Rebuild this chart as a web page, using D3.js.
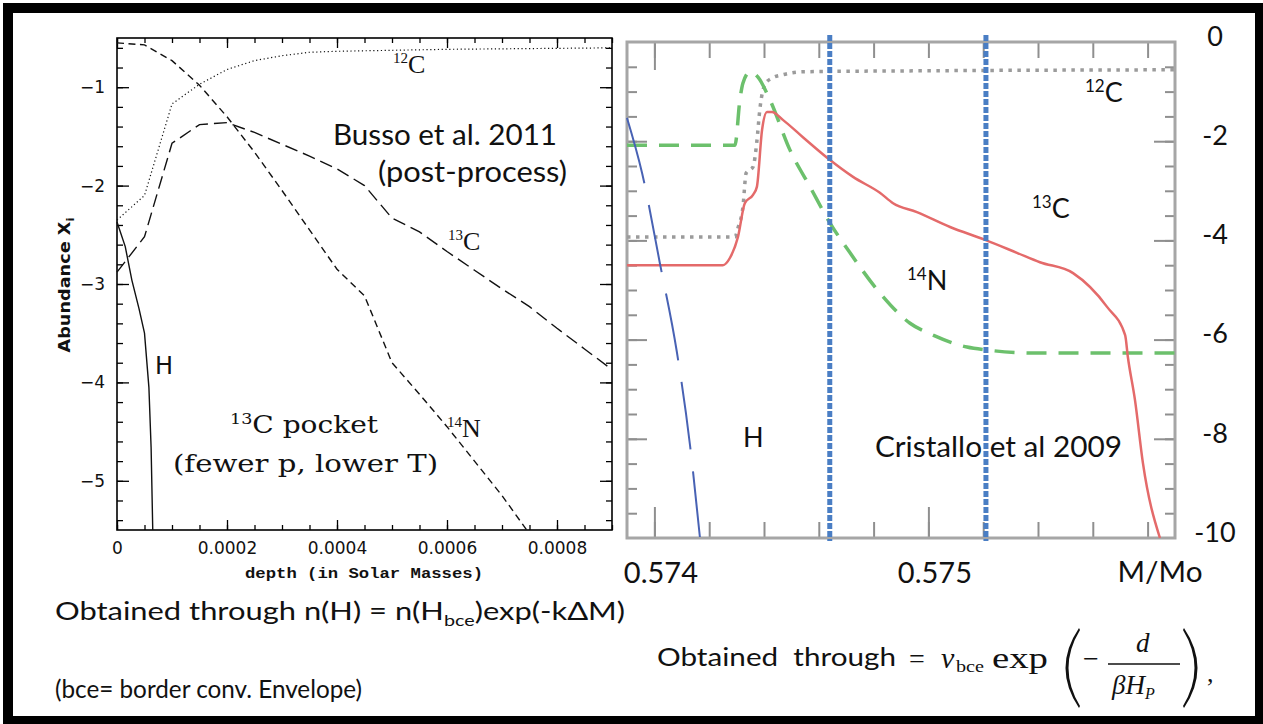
<!DOCTYPE html>
<html>
<head>
<meta charset="utf-8">
<script src="https://cdn.jsdelivr.net/npm/d3@7"></script>
<style>
  body { margin: 0; background: #fff; }
  svg text { font-family: Lato, "Open Sans", sans-serif; fill: #111; }
  svg text.serif { font-family: "Liberation Serif", "Times New Roman", serif; }
  svg text.helv { font-family: "DejaVu Sans", sans-serif; }
  svg text.mono { font-family: "Liberation Mono", monospace; font-weight: bold; }
  svg text.school { font-family: "DejaVu Serif", serif; }
</style>
</head>
<body>
<svg width="1263" height="724"></svg>
<script>
// ---- left panel: Busso et al. 2011 (depth in solar masses, log abundance) ----
var busso12C = [[0,-2.35],[0.00005,-2.10],[0.0001,-1.17],[0.00015,-0.97],[0.0002,-0.82],[0.00025,-0.73],
  [0.0003,-0.68],[0.00035,-0.645],[0.0004,-0.635],[0.0005,-0.625],[0.0006,-0.615],[0.0007,-0.61],[0.0008,-0.605],[0.0009,-0.60]];
var busso13C = [[0,-2.88],[0.00005,-2.52],[0.0001,-1.57],[0.00015,-1.38],[0.0002,-1.36],[0.00025,-1.46],[0.0003,-1.58],
  [0.00035,-1.70],[0.0004,-1.83],[0.00045,-2.0],[0.0005,-2.33],[0.00055,-2.47],[0.0006,-2.67],[0.00065,-2.86],
  [0.0007,-3.05],[0.00075,-3.23],[0.0008,-3.45],[0.00085,-3.66],[0.0009,-3.87]];
var busso14N = [[0,-0.55],[0.00005,-0.57],[0.0001,-0.73],[0.00015,-0.98],[0.0002,-1.30],[0.00025,-1.66],[0.0003,-2.05],
  [0.00035,-2.45],[0.0004,-2.85],[0.00045,-3.12],[0.0005,-3.8],[0.00055,-4.12],[0.0006,-4.45],[0.00065,-4.8],
  [0.0007,-5.15],[0.000745,-5.5]];
var bussoH = [[0,-2.37],[0.000015,-2.62],[0.000027,-2.96],[0.00004,-3.25],[0.00005,-3.5],[0.000058,-4.05],
  [0.000062,-4.66],[0.000065,-5.5]];
var leftXTicks = [0, 0.0002, 0.0004, 0.0006, 0.0008];
var leftXLabels = ['0', '0.0002', '0.0004', '0.0006', '0.0008'];
var leftYTicks = [-1, -2, -3, -4, -5];

// ---- right panel: Cristallo et al. 2009 (M/Mo, log abundance) ----
var cristallo12C = [[0.5739,-3.93],[0.574294,-3.93],[0.574305,-3.75],[0.574323,-3.33],[0.574335,-2.64],[0.57436,-2.52],
  [0.574374,-2.0],[0.574385,-1.35],[0.574404,-0.85],[0.574429,-0.73],[0.574469,-0.66],[0.574542,-0.6],[0.575,-0.58],[0.5759,-0.56]];
var cristallo13C = [[0.5739,-4.5],[0.57425,-4.5],[0.574276,-4.35],[0.574305,-3.93],[0.57433,-3.25],[0.57436,-3.08],
  [0.574374,-2.92],[0.574393,-1.77],[0.574411,-1.41],[0.574429,-1.41],[0.574469,-1.57],[0.574542,-1.92],[0.574641,-2.38],
  [0.574725,-2.72],[0.574823,-3.04],[0.574871,-3.25],[0.574958,-3.43],[0.575079,-3.73],[0.575207,-3.99],[0.575323,-4.25],
  [0.575407,-4.44],[0.575528,-4.66],[0.575652,-5.34],[0.575718,-5.91],[0.575728,-6.35],[0.575754,-7.22],[0.575783,-8.49],[0.575845,-10]];
var cristallo14N = [[0.5739,-2.08],[0.574294,-2.08],[0.574312,-1.17],[0.574323,-0.83],[0.574349,-0.60],[0.574378,-0.71],
  [0.574422,-1.17],[0.574495,-2.18],[0.574568,-2.92],[0.574641,-3.65],[0.574714,-4.25],[0.574823,-5.06],[0.574933,-5.67],
  [0.575017,-5.91],[0.575141,-6.15],[0.575214,-6.21],[0.575382,-6.27],[0.5759,-6.27]];
var cristalloH = [[0.5739,-1.53],[0.573955,-2.64],[0.57402,-4.46],[0.574082,-6.25],[0.57413,-8.13],[0.574166,-9.98]];
var pocketEdges = [0.57464, 0.57521];
var rightXTicks = [0.574, 0.575];
var rightYTicks = [0, -2, -4, -6, -8, -10];

var svg = d3.select('svg');

// black frame
svg.append('rect').attr('x', 3).attr('y', 3).attr('width', 1260).attr('height', 721).attr('fill', '#000');
svg.append('rect').attr('x', 13).attr('y', 13).attr('width', 1242).attr('height', 703).attr('fill', '#fff');

var leftX = d3.scaleLinear().domain([0, 0.0009]).range([117, 612]);
var leftY = d3.scaleLinear().domain([-5.5, -0.5]).range([530, 38]);
var rightX = d3.scaleLinear().domain([0.5739, 0.5759]).range([627, 1175]);
var rightY = d3.scaleLinear().domain([-10, 0]).range([538, 42]);

function noLabel(){ return ''; }

function addAxis(g, axis, color, width){
  g.call(axis);
  g.select('.domain').remove();
  g.attr('font-family', null).attr('font-size', null);
  g.selectAll('line').attr('stroke', color).attr('stroke-width', width);
  return g;
}

function isotope(x, y, mass, sym, big, small, cls){
  var t = svg.append('text').attr('class', cls).attr('x', x).attr('y', y);
  t.append('tspan').attr('font-size', small).attr('dy', -big * 0.38).text(mass);
  t.append('tspan').attr('font-size', big).attr('dy', big * 0.38).text(sym);
  return t;
}

function drawLeft(){
  var minorX = d3.range(0, 0.00090001, 0.00005);
  var minorY = d3.range(-5.4, -0.5, 0.2);
  var g = svg.append('g');

  addAxis(g.append('g').attr('transform', 'translate(0,530)'),
    d3.axisBottom(leftX).tickValues(minorX).tickSizeInner(-5).tickSizeOuter(0).tickFormat(noLabel), '#000', 1.3);
  var bx = addAxis(g.append('g').attr('transform', 'translate(0,530)'),
    d3.axisBottom(leftX).tickValues(leftXTicks).tickSizeInner(-10).tickSizeOuter(0).tickPadding(12)
      .tickFormat(function(d, i){ return leftXLabels[i]; }), '#000', 1.3);
  bx.selectAll('text').attr('class', 'helv').attr('font-size', 17).attr('fill', '#222');
  addAxis(g.append('g').attr('transform', 'translate(0,38)'),
    d3.axisTop(leftX).tickValues(minorX).tickSizeInner(-5).tickSizeOuter(0).tickFormat(noLabel), '#000', 1.3);
  addAxis(g.append('g').attr('transform', 'translate(0,38)'),
    d3.axisTop(leftX).tickValues(leftXTicks).tickSizeInner(-10).tickSizeOuter(0).tickFormat(noLabel), '#000', 1.3);

  addAxis(g.append('g').attr('transform', 'translate(117,0)'),
    d3.axisLeft(leftY).tickValues(minorY).tickSizeInner(-6).tickSizeOuter(0).tickFormat(noLabel), '#000', 1.3);
  var by = addAxis(g.append('g').attr('transform', 'translate(117,0)'),
    d3.axisLeft(leftY).tickValues(leftYTicks).tickSizeInner(-12).tickSizeOuter(0).tickPadding(12)
      .tickFormat(d3.format('d')), '#000', 1.3);
  by.selectAll('text').attr('class', 'helv').attr('font-size', 17).attr('fill', '#222');
  addAxis(g.append('g').attr('transform', 'translate(612,0)'),
    d3.axisRight(leftY).tickValues(minorY).tickSizeInner(-6).tickSizeOuter(0).tickFormat(noLabel), '#000', 1.3);
  addAxis(g.append('g').attr('transform', 'translate(612,0)'),
    d3.axisRight(leftY).tickValues(leftYTicks).tickSizeInner(-12).tickSizeOuter(0).tickFormat(noLabel), '#000', 1.3);

  g.append('rect').attr('x', 117).attr('y', 38).attr('width', 612 - 117).attr('height', 530 - 38)
    .attr('fill', 'none').attr('stroke', '#000').attr('stroke-width', 1.6);

  var line = d3.line().x(function(d){ return leftX(d[0]); }).y(function(d){ return leftY(d[1]); });
  var series = [
    { data: busso12C, dash: '1.2,2.6', w: 1.2 },
    { data: busso13C, dash: '13,6', w: 1.4 },
    { data: busso14N, dash: '7,4.5', w: 1.4 },
    { data: bussoH, dash: null, w: 1.4 }
  ];
  g.selectAll('path.curve').data(series).enter().append('path')
    .attr('class', 'curve')
    .attr('d', function(d){ return line(d.data); })
    .attr('fill', 'none').attr('stroke', '#111')
    .attr('stroke-width', function(d){ return d.w; })
    .attr('stroke-dasharray', function(d){ return d.dash; });

  // axis titles
  svg.append('text').attr('class', 'mono').attr('x', 364).attr('y', 578).attr('text-anchor', 'middle')
    .attr('font-size', 15).attr('textLength', 238).attr('lengthAdjust', 'spacingAndGlyphs')
    .text('depth (in Solar Masses)');
  var yt = svg.append('text').attr('class', 'helv').attr('font-weight', 'bold').attr('font-size', 15)
    .attr('transform', 'translate(70,285) rotate(-90)').attr('text-anchor', 'middle')
    .attr('textLength', 135).attr('lengthAdjust', 'spacingAndGlyphs');
  yt.append('tspan').text('Abundance X');
  yt.append('tspan').attr('font-size', 10).attr('dy', 4).text('i');

  // labels inside
  isotope(393, 73, '12', 'C', 26, 15, 'serif');
  isotope(448, 250, '13', 'C', 26, 15, 'serif');
  isotope(447, 437, '14', 'N', 26, 15, 'serif');
  svg.append('text').attr('class', 'helv').attr('x', 155).attr('y', 374).attr('font-size', 24).text('H');
  svg.append('text').attr('x', 333).attr('y', 145).attr('font-size', 28)
    .attr('textLength', 224).attr('lengthAdjust', 'spacingAndGlyphs').text('Busso et al. 2011');
  svg.append('text').attr('x', 378).attr('y', 182).attr('font-size', 28)
    .attr('textLength', 189).attr('lengthAdjust', 'spacingAndGlyphs').text('(post-process)');
  var pk = isotope(230, 433, '13', 'C', 24, 15, 'school')
    .attr('textLength', 148).attr('lengthAdjust', 'spacingAndGlyphs');
  pk.append('tspan').attr('font-size', 24).text(' pocket');
  svg.append('text').attr('class', 'school').attr('x', 173).attr('y', 472).attr('font-size', 24)
    .attr('textLength', 265).attr('lengthAdjust', 'spacingAndGlyphs').text('(fewer p, lower T)');
}

function drawRight(){
  var minorX = d3.range(0.5740, 0.57589, 0.0002);
  var minorY = d3.range(-9.5, 0, 0.5);
  var majorY = [-2, -4, -6, -8];
  var grey = '#8f8f8f';
  var g = svg.append('g');

  addAxis(g.append('g').attr('transform', 'translate(0,538)'),
    d3.axisBottom(rightX).tickValues(minorX).tickSizeInner(-16).tickSizeOuter(0).tickFormat(noLabel), grey, 2);
  var bx = addAxis(g.append('g').attr('transform', 'translate(0,538)'),
    d3.axisBottom(rightX).tickValues(rightXTicks).tickSizeInner(-31).tickSizeOuter(0).tickPadding(24)
      .tickFormat(d3.format('.3f')), grey, 2);
  bx.selectAll('text').attr('font-size', 29).attr('dx', 6).attr('fill', '#111');
  addAxis(g.append('g').attr('transform', 'translate(0,42)'),
    d3.axisTop(rightX).tickValues(minorX).tickSizeInner(-16).tickSizeOuter(0).tickFormat(noLabel), grey, 2);
  addAxis(g.append('g').attr('transform', 'translate(0,42)'),
    d3.axisTop(rightX).tickValues([rightXTicks[0]]).tickSizeInner(-28).tickSizeOuter(0).tickFormat(noLabel), grey, 2);

  addAxis(g.append('g').attr('transform', 'translate(627,0)'),
    d3.axisLeft(rightY).tickValues(minorY).tickSizeInner(-10).tickSizeOuter(0).tickFormat(noLabel), grey, 2);
  addAxis(g.append('g').attr('transform', 'translate(627,0)'),
    d3.axisLeft(rightY).tickValues(majorY).tickSizeInner(-20).tickSizeOuter(0).tickFormat(noLabel), grey, 2);
  addAxis(g.append('g').attr('transform', 'translate(1175,0)'),
    d3.axisRight(rightY).tickValues(minorY).tickSizeInner(-10).tickSizeOuter(0).tickFormat(noLabel), grey, 2);
  var ry = addAxis(g.append('g').attr('transform', 'translate(1175,0)'),
    d3.axisRight(rightY).tickValues(rightYTicks).tickSizeInner(-21).tickSizeOuter(0).tickPadding(40)
      .tickFormat(function(d){ return String(d); }), grey, 2);
  ry.selectAll('.tick').filter(function(d){ return d === 0 || d === -10; }).select('line').remove();
  ry.selectAll('text').attr('font-size', 27).attr('text-anchor', 'middle').attr('dy', '0.12em').attr('fill', '#111');

  g.append('rect').attr('x', 627).attr('y', 42).attr('width', 1175 - 627).attr('height', 538 - 42)
    .attr('fill', 'none').attr('stroke', '#a6a6a6').attr('stroke-width', 3);

  var line = d3.line().curve(d3.curveMonotoneX)
    .x(function(d){ return rightX(d[0]); }).y(function(d){ return rightY(d[1]); });
  var series = [
    { data: cristallo12C, color: '#9b9b9b', w: 3.5, dash: '3.5,5.5' },
    { data: cristallo14N, color: '#6cc06c', w: 3.5, dash: '20,12' },
    { data: cristallo13C, color: '#e46a6a', w: 2.5, dash: null },
    { data: cristalloH, color: '#4862b4', w: 2, dash: '68,22' }
  ];
  g.selectAll('path.curve').data(series).enter().append('path')
    .attr('class', 'curve')
    .attr('d', function(d){ return line(d.data); })
    .attr('fill', 'none')
    .attr('stroke', function(d){ return d.color; })
    .attr('stroke-width', function(d){ return d.w; })
    .attr('stroke-dasharray', function(d){ return d.dash; });

  g.selectAll('line.edge').data(pocketEdges).enter().append('line')
    .attr('class', 'edge')
    .attr('x1', function(d){ return rightX(d); }).attr('x2', function(d){ return rightX(d); })
    .attr('y1', rightY(0) - 7).attr('y2', rightY(-10) + 3)
    .attr('stroke', '#4a7ec4').attr('stroke-width', 5).attr('stroke-dasharray', '6,2');

  svg.append('text').attr('x', 1160).attr('y', 582).attr('text-anchor', 'middle').attr('font-size', 29)
    .attr('textLength', 85).attr('lengthAdjust', 'spacingAndGlyphs').text('M/Mo');

  isotope(1085, 102, '12', 'C', 27, 17, null);
  isotope(1032, 218, '13', 'C', 27, 17, null);
  isotope(907, 290, '14', 'N', 27, 17, null);
  svg.append('text').attr('x', 743).attr('y', 447).attr('font-size', 27).text('H');
  svg.append('text').attr('x', 875).attr('y', 457).attr('font-size', 28)
    .attr('textLength', 247).attr('lengthAdjust', 'spacingAndGlyphs').text('Cristallo et al 2009');
}

function drawNotes(){
  var t1 = svg.append('text').attr('x', 55).attr('y', 620).attr('font-size', 25)
    .attr('textLength', 570).attr('lengthAdjust', 'spacingAndGlyphs');
  t1.append('tspan').text('Obtained through n(H) = n(H');
  t1.append('tspan').attr('font-size', 16).attr('dy', 6).text('bce');
  t1.append('tspan').attr('dy', -6).text(')exp(-k\u0394M)');
  svg.append('text').attr('x', 55).attr('y', 698).attr('font-size', 25)
    .attr('textLength', 307).attr('lengthAdjust', 'spacingAndGlyphs').text('(bce= border conv. Envelope)');

  svg.append('text').attr('x', 657).attr('y', 666).attr('font-size', 25).style('white-space', 'pre')
    .attr('textLength', 239).attr('lengthAdjust', 'spacingAndGlyphs').text('Obtained  through');
  svg.append('text').attr('class', 'serif').attr('x', 909).attr('y', 668).attr('font-size', 28).text('=');
  svg.append('text').attr('class', 'serif').attr('x', 941).attr('y', 668).attr('font-size', 30)
    .attr('font-style', 'italic').text('v');
  svg.append('text').attr('class', 'serif').attr('x', 956).attr('y', 672).attr('font-size', 16)
    .attr('textLength', 28).attr('lengthAdjust', 'spacingAndGlyphs').text('bce');
  svg.append('text').attr('class', 'serif').attr('x', 992).attr('y', 668).attr('font-size', 30)
    .attr('textLength', 56).attr('lengthAdjust', 'spacingAndGlyphs').text('exp');
  svg.append('text').attr('class', 'serif').attr('x', 1083).attr('y', 668).attr('font-size', 28).text('\u2212');
  svg.append('text').attr('class', 'serif').attr('x', 1136).attr('y', 652).attr('font-size', 27)
    .attr('font-style', 'italic').text('d');
  svg.append('line').attr('x1', 1108).attr('x2', 1180).attr('y1', 664).attr('y2', 664)
    .attr('stroke', '#111').attr('stroke-width', 1.4);
  var den = svg.append('text').attr('class', 'serif').attr('x', 1112).attr('y', 694).attr('font-size', 27)
    .attr('font-style', 'italic');
  den.append('tspan').text('\u03B2H');
  den.append('tspan').attr('font-size', 16).attr('dy', 5).text('P');
  svg.append('text').attr('class', 'serif').attr('x', 1207).attr('y', 682).attr('font-size', 26).text(',');
  // big parentheses
  svg.append('path').attr('d', 'M1079,628 Q1052,668 1079,708 L1080,706 Q1057,668 1080,630 Z').attr('fill', '#111');
  svg.append('path').attr('d', 'M1184,628 Q1211,668 1184,708 L1183,706 Q1206,668 1183,630 Z').attr('fill', '#111');
}

drawLeft();
drawRight();
drawNotes();
</script>
</body>
</html>
